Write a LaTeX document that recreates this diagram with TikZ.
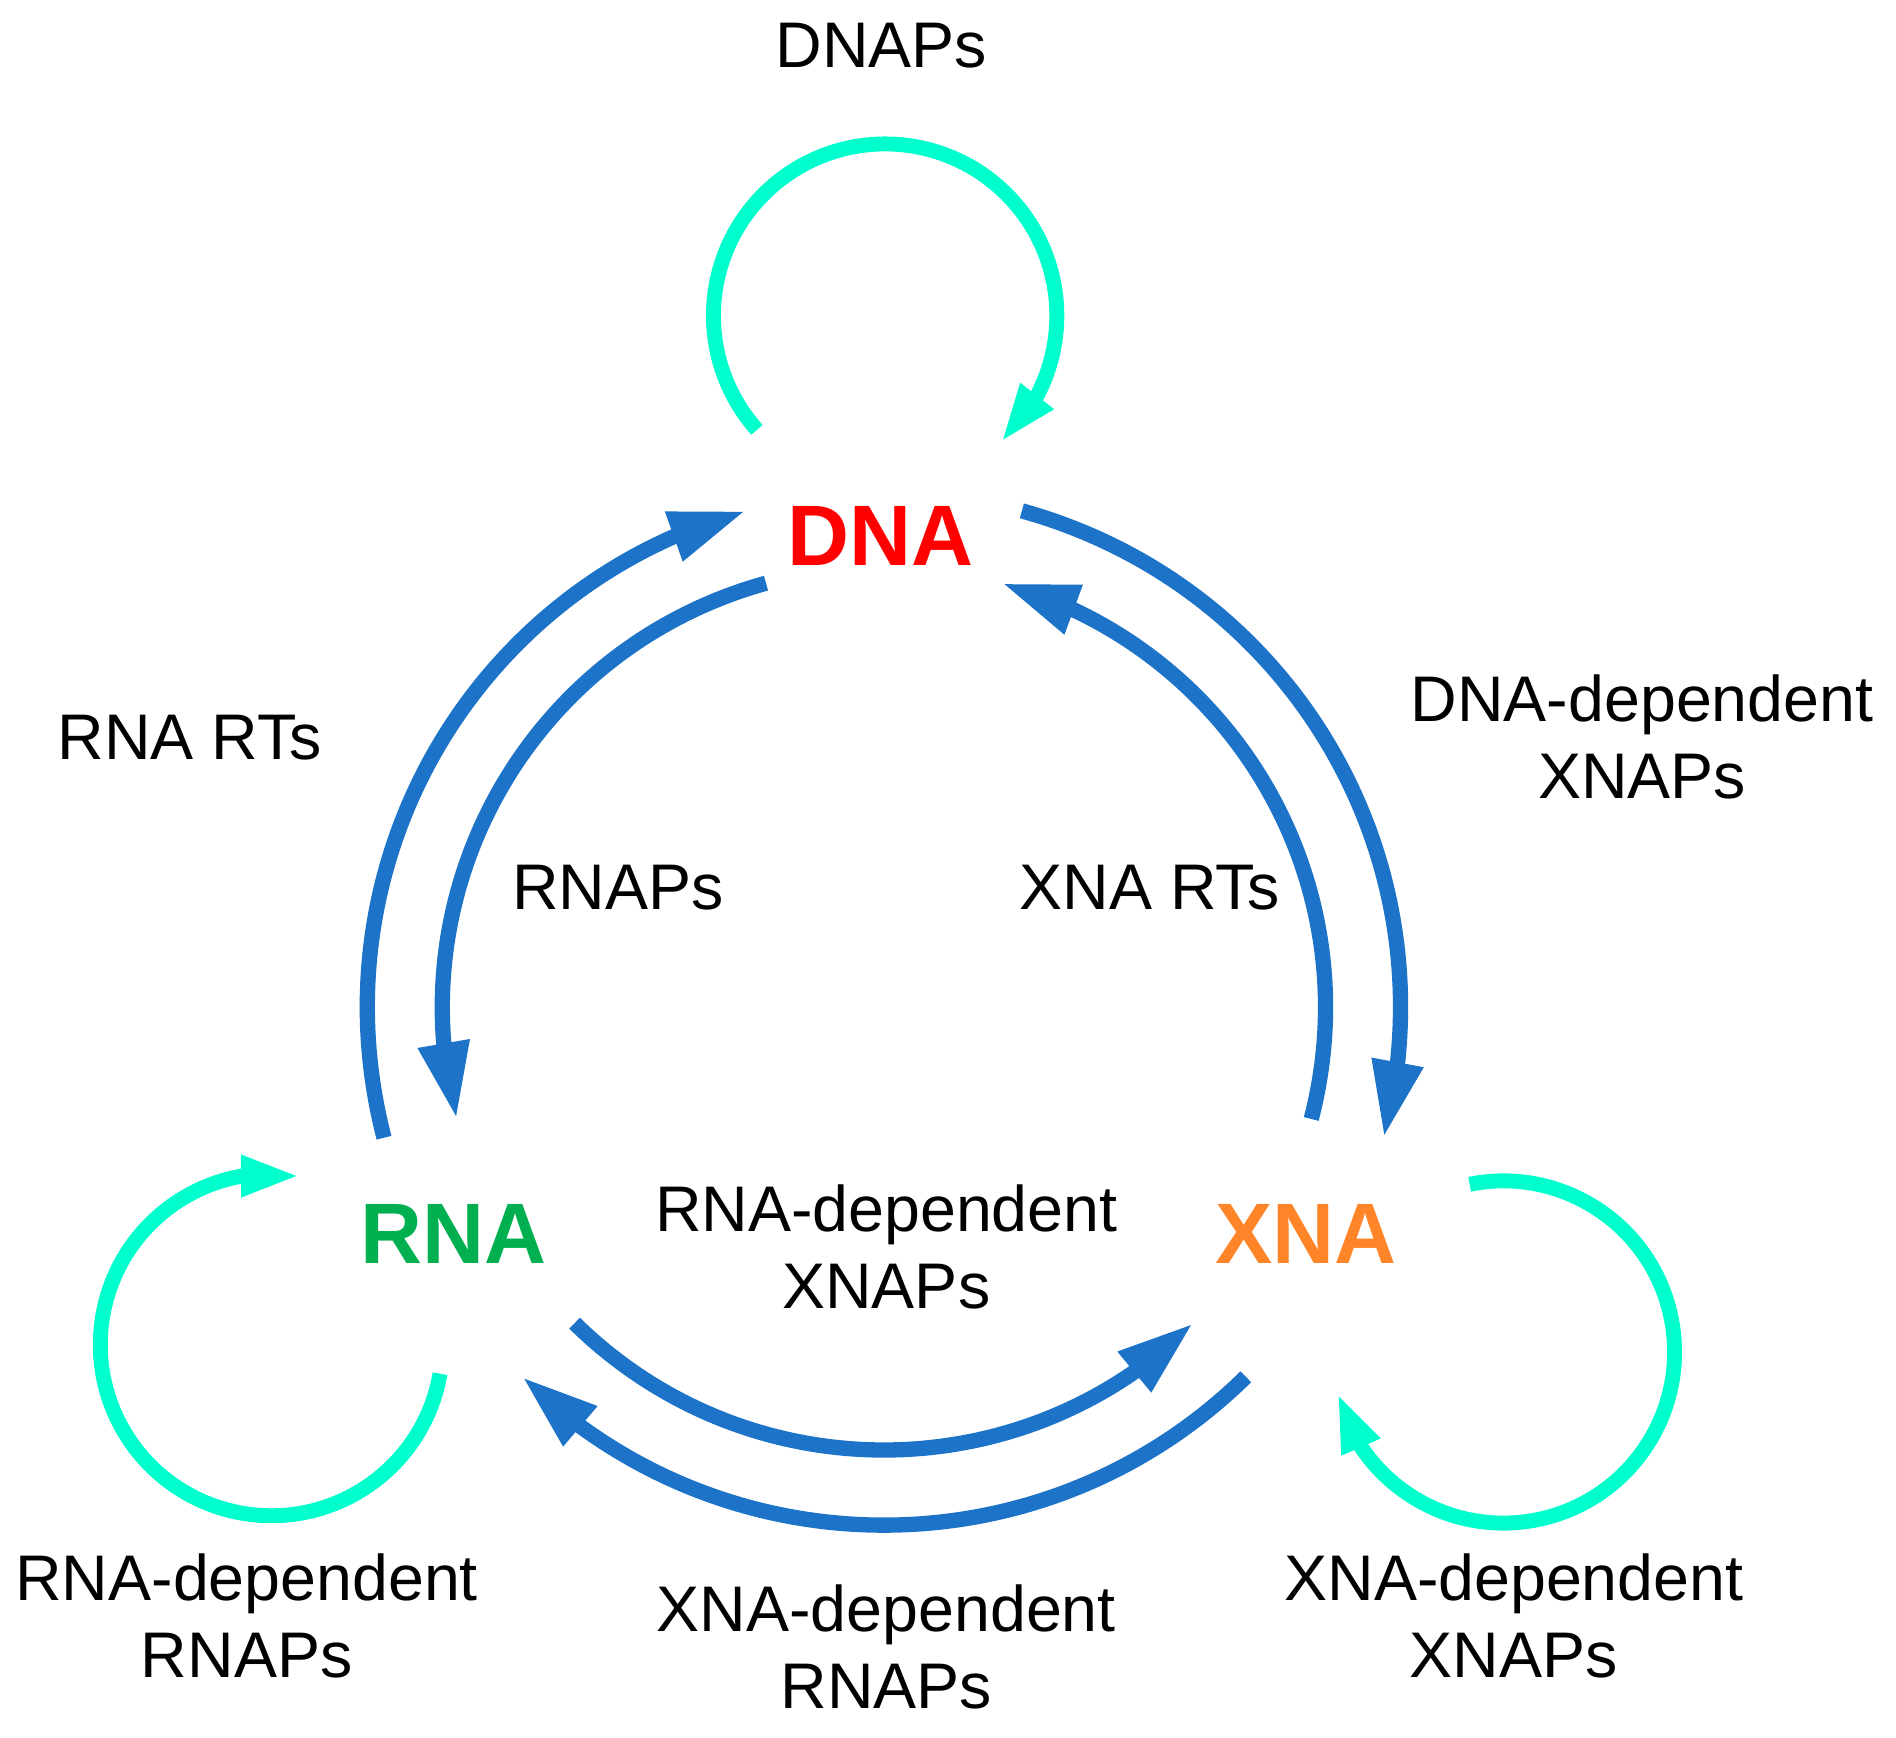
\documentclass[tikz,border=0pt]{standalone}
\usepackage{fontspec}
\setmainfont{Liberation Sans}
\usetikzlibrary{arrows.meta}
\usetikzlibrary{bending}
\usepackage{xcolor}

\definecolor{arcblue}{RGB}{28,115,200}
\definecolor{loopcyan}{RGB}{0,255,204}
\definecolor{dnared}{RGB}{255,0,0}
\definecolor{rnagreen}{RGB}{0,176,80}
\definecolor{xnaorange}{RGB}{255,133,40}

\begin{document}
\begin{tikzpicture}[x=0.3pt,y=0.3pt,yscale=-1,xscale=1,
  flow/.style={draw=arcblue,line width=3.8pt,-{Triangle[length=19pt,width=12pt,flex]}},
  selfloop/.style={draw=loopcyan,line width=3.7pt,-{Triangle[length=14.7pt,width=9.4pt,flex]}},
  enzyme/.style={font=\fontsize{16}{19}\selectfont,align=center,anchor=base,inner sep=0pt},
  acid/.style={font=\fontsize{21.3}{25}\selectfont\bfseries,anchor=base,inner sep=0pt}]
\useasboundingbox (0,0) rectangle (1568,1437);

% Text Node
\node [acid,text=dnared] (dna) at (728,468) {DNA};
% Text Node
\node [acid,text=rnagreen] (rna) at (375,1045) {RNA};
% Text Node
\node [acid,text=xnaorange] (xna) at (1080,1045) {XNA};

% Text Node
\node [enzyme] (dnaps) at (729,56) {DNAPs};
% Text Node
\node [enzyme] (rnarts) at (157,628) {RNA RTs};
% Text Node
\node [enzyme] (rnaps) at (511,752) {RNAPs};
% Text Node
\node [enzyme] (xnarts) at (951,752) {XNA RTs};
% Text Node
\node [enzyme] (dnadep) at (1358,660) {DNA-dependent\\XNAPs};
% Text Node
\node [enzyme] (rnadepx) at (733,1082) {RNA-dependent\\XNAPs};
% Text Node
\node [enzyme] (rnadepr) at (204,1387) {RNA-dependent\\RNAPs};
% Text Node
\node [enzyme] (xnadepr) at (733,1413) {XNA-dependent\\RNAPs};
% Text Node
\node [enzyme] (xnadepx) at (1252,1387) {XNA-dependent\\XNAPs};

%Arc ends
\coordinate (rnart-from) at (317.6,940.9);
\coordinate (rnart-to) at (616.9,422.5);
\coordinate (rnap-from) at (633.5,482.3);
\coordinate (rnap-to) at (377.6,925.4);
\coordinate (dnadep-from) at (845.1,422.5);
\coordinate (dnadep-to) at (1144.4,940.9);
\coordinate (xnart-from) at (1084.4,925.4);
\coordinate (xnart-to) at (828.5,482.3);
\coordinate (rnadepx-from) at (475.2,1094.3);
\coordinate (rnadepx-to) at (986.8,1094.3);
\coordinate (xnadepr-from) at (1030.3,1138.6);
\coordinate (xnadepr-to) at (431.7,1138.6);

%Curve Lines
\draw [flow] (rnart-from) to[bend right=44.5] (rnart-to);
\draw [flow] (rnap-from) to[bend left=44.5] (rnap-to);
\draw [flow] (dnadep-from) to[bend right=44.5] (dnadep-to);
\draw [flow] (xnart-from) to[bend left=44.5] (xnart-to);
\draw [flow] (rnadepx-from) to[bend left=44.5] (rnadepx-to);
\draw [flow] (xnadepr-from) to[bend right=44.5] (xnadepr-to);

%Shape: Arc
\coordinate (dnaps-from) at (626,355.5);
\draw [selfloop] (dnaps-from) arc[start angle=138.3,end angle=407.7,radius=142];
%Shape: Arc
\coordinate (rnadepr-from) at (363.9,1136.1);
\draw [selfloop] (rnadepr-from) arc[start angle=9.8,end angle=279.7,radius=141.5];
%Shape: Arc
\coordinate (xnadepx-from) at (1215.4,979.4);
\draw [selfloop] (xnadepx-from) arc[start angle=-101.4,end angle=166.2,radius=141.5];

\end{tikzpicture}
\end{document}
